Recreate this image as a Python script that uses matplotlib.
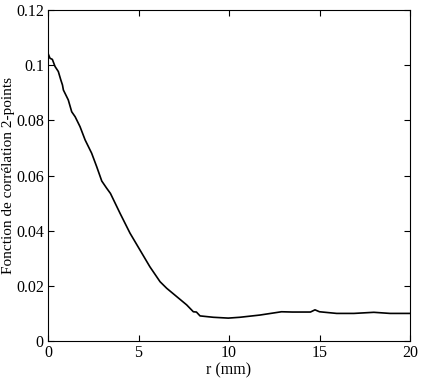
import matplotlib
matplotlib.use('Agg')
import matplotlib.pyplot as plt

# values
r_mm = [0.0, 0.11, 0.24, 0.39, 0.57, 0.71, 0.80, 0.85, 1.03, 1.12, 1.31, 1.50, 1.77,
        2.05, 2.41, 2.69, 2.97, 3.24, 3.45, 3.98, 4.53, 5.08, 5.63, 6.19, 6.56,
        7.11, 7.66, 8.03, 8.2, 8.40, 9.13, 9.96, 10.6, 11.7, 12.9, 13.5, 14.5,
        14.75, 15.0, 15.95, 16.9, 18.0, 18.9, 20.0]
corr = [0.1043, 0.1025, 0.1021, 0.0995, 0.0977, 0.0946, 0.0928, 0.0910, 0.0886,
        0.0874, 0.0831, 0.0813, 0.0777, 0.0729, 0.0681, 0.0632, 0.0580, 0.0554,
        0.0535, 0.0463, 0.0391, 0.0330, 0.0269, 0.0215, 0.0191, 0.0161, 0.0131,
        0.0106, 0.0105, 0.0091, 0.0086, 0.0083, 0.0086, 0.0094, 0.0106, 0.0105,
        0.0105, 0.0113, 0.0106, 0.0100, 0.0100, 0.0104, 0.0100, 0.0100]

plt.rcParams['font.family'] = ['Liberation Serif', 'DejaVu Serif']
plt.rcParams['font.size'] = 11.5

fig = plt.figure(figsize=(4.21, 3.82), dpi=100)
ax = fig.add_axes([48 / 421, 1 - 341 / 382, 362 / 421, 331 / 382])

ax.plot(r_mm, corr, color='black', linewidth=1.2)

ax.set_xlim(0, 20)
ax.set_ylim(0, 0.12)
ax.set_xticks([0, 5, 10, 15, 20])
ax.set_yticks([0, 0.02, 0.04, 0.06, 0.08, 0.1, 0.12])
ax.set_yticklabels(['0', '0.02', '0.04', '0.06', '0.08', '0.1', '0.12'])
ax.tick_params(direction='in', top=True, right=True, length=4, width=0.8, pad=3)
for s in ax.spines.values():
    s.set_linewidth(0.8)

ax.set_xlabel('r (mm)', labelpad=1)
ax.set_ylabel('Fonction de corrélation 2-points', fontsize=11, labelpad=1)

fig.savefig('out.png', dpi=100)
